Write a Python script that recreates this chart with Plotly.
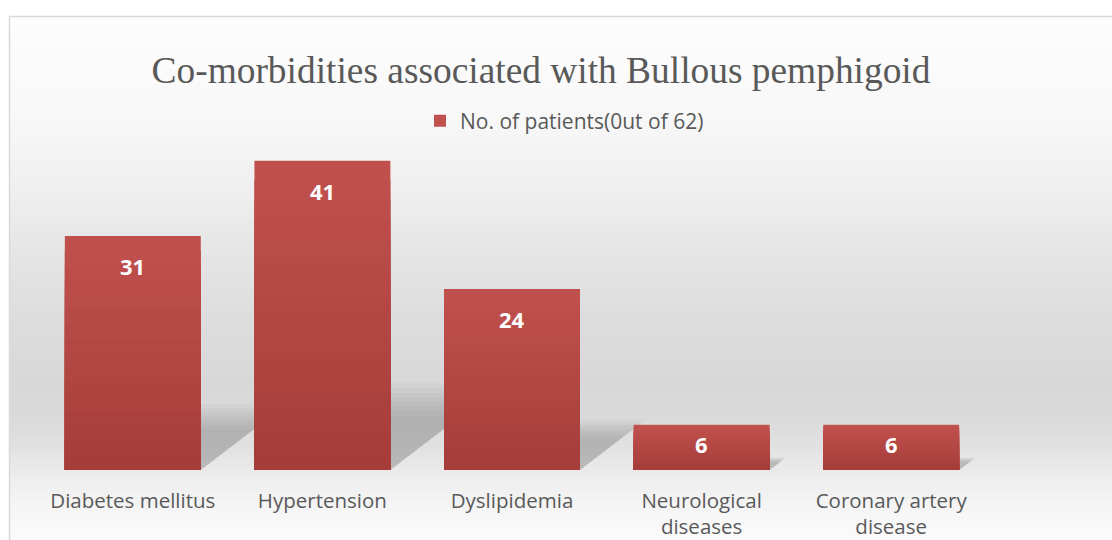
import plotly.graph_objects as go

# ---------------- data ----------------
categories = ["Diabetes mellitus", "Hypertension", "Dyslipidemia",
              "Neurological diseases", "Coronary artery disease"]
tick_labels = ["Diabetes mellitus", "Hypertension", "Dyslipidemia",
               "Neurological<br>diseases", "Coronary artery<br>disease"]
patients = [31, 41, 24, 6, 6]
series_name = "No. of patients(0ut of 62)"
title_text = "Co-morbidities associated with Bullous pemphigoid"

# ---------------- layout geometry ----------------
W, H = 1112, 540
ML, MT = 38, 138
MR = W - 986
MB = H - 470
PW, PH = W - ML - MR, H - MT - MB
YMAX = 44
BARGAP = 0.283
HALF = (1 - BARGAP) / 2

def px_x(px):          # page pixel -> paper x
    return (px - ML) / PW

def px_y(py):          # page pixel -> paper y
    return (H - MB - py) / PH

TEXT = "#595959"
FONT = "Open Sans"
TOP_RGB = (192, 80, 77)
BOT_RGB = (166, 61, 58)

fig = go.Figure()

# bars with a vertical gradient (layered overlay bars)
N = 16
for k in range(N):
    f = 1 - k / N
    t = k / (N - 1)
    c = tuple(round(TOP_RGB[j] + (BOT_RGB[j] - TOP_RGB[j]) * t) for j in range(3))
    fig.add_trace(go.Bar(
        x=categories, y=[v * f for v in patients],
        name=series_name,
        marker=dict(color="rgb(%d,%d,%d)" % c, line=dict(width=0)),
        showlegend=(k == 0),
        hoverinfo="skip" if k else "x+y",
    ))

# ---------------- background gradient ----------------
stops = [(16, 253), (116, 248), (183, 240), (249, 230), (316, 221), (383, 216),
         (420, 218), (449, 226), (480, 238), (516, 247), (540, 251)]

def gray_at(py):
    for (a, ga), (b, gb) in zip(stops, stops[1:]):
        if a <= py <= b:
            return ga + (gb - ga) * (py - a) / (b - a)
    return stops[-1][1]

shapes = []
step = 3
py = 16
while py < 540:
    g = round(gray_at(py + step / 2))
    shapes.append(dict(type="rect", xref="paper", yref="paper",
                       x0=px_x(9), x1=px_x(1113), y0=px_y(py + step + 0.5), y1=px_y(py),
                       fillcolor="rgb(%d,%d,%d)" % (g, g, g), line=dict(width=0),
                       layer="below"))
    py += step

# soft perspective shadows behind bars (derived from bar values)
pxu_x = PW / len(categories)
pxu_y = PH / YMAX
for i, v in enumerate(patients):
    hgt = 0.23 * v
    dx = 1.3 * hgt * pxu_y / pxu_x
    for s in [1.22, 1.15, 1.08, 1.02, 0.96, 0.9, 0.83, 0.75]:
        hh = hgt * s
        d = dx * s
        path = "M %f,0 L %f,0 L %f,%f L %f,%f Z" % (
            i - HALF + 0.02, i + HALF, i + HALF + d, hh, i - HALF + d, hh)
        shapes.append(dict(type="path", xref="x", yref="y", path=path,
                           fillcolor="rgba(110,110,110,0.055)",
                           line=dict(width=0), layer="below"))

# chart frame
shapes.append(dict(type="line", xref="paper", yref="paper",
                   x0=px_x(9), x1=px_x(1113), y0=px_y(16.5), y1=px_y(16.5),
                   line=dict(color="#d9d9d9", width=1.5)))
shapes.append(dict(type="line", xref="paper", yref="paper",
                   x0=px_x(9.5), x1=px_x(9.5), y0=px_y(16), y1=px_y(541),
                   line=dict(color="#d9d9d9", width=1.5)))

# data labels
annotations = []
for i, v in enumerate(patients):
    shift = -30 if v * pxu_y > 70 else -19
    annotations.append(dict(x=categories[i], y=v, xref="x", yref="y",
                            text="<b>%d</b>" % v, showarrow=False,
                            yshift=shift, yanchor="middle",
                            font=dict(family=FONT, size=22, color="white")))

fig.update_layout(
    width=W, height=H,
    margin=dict(l=ML, r=MR, t=MT, b=MB, pad=0, autoexpand=False),
    paper_bgcolor="white",
    plot_bgcolor="rgba(0,0,0,0)",
    barmode="overlay",
    bargap=BARGAP,
    title=dict(text=title_text, x=541 / W, xanchor="center",
               y=1 - 70 / H, yanchor="middle",
               font=dict(family="Liberation Serif", size=37.4, color=TEXT)),
    legend=dict(orientation="h", x=px_x(420), xanchor="left",
                y=px_y(121), yanchor="middle",
                bgcolor="rgba(0,0,0,0)",
                font=dict(family=FONT, size=21, color=TEXT)),
    xaxis=dict(tickmode="array", tickvals=categories, ticktext=tick_labels,
               range=[-0.5, len(categories) - 0.5], automargin=False,
               showgrid=False, zeroline=False, showline=False,
               ticks="outside", ticklen=12, tickcolor="rgba(0,0,0,0)",
               tickfont=dict(family=FONT, size=20.5, color=TEXT)),
    yaxis=dict(range=[0, YMAX], visible=False, showgrid=False, zeroline=False,
               automargin=False),
    shapes=shapes,
    annotations=annotations,
    showlegend=True,
)

fig.write_html(
    "out.html",
    config={"displayModeBar": False},
    post_script="document.body.style.margin='0';document.body.style.overflow='hidden';",
)
